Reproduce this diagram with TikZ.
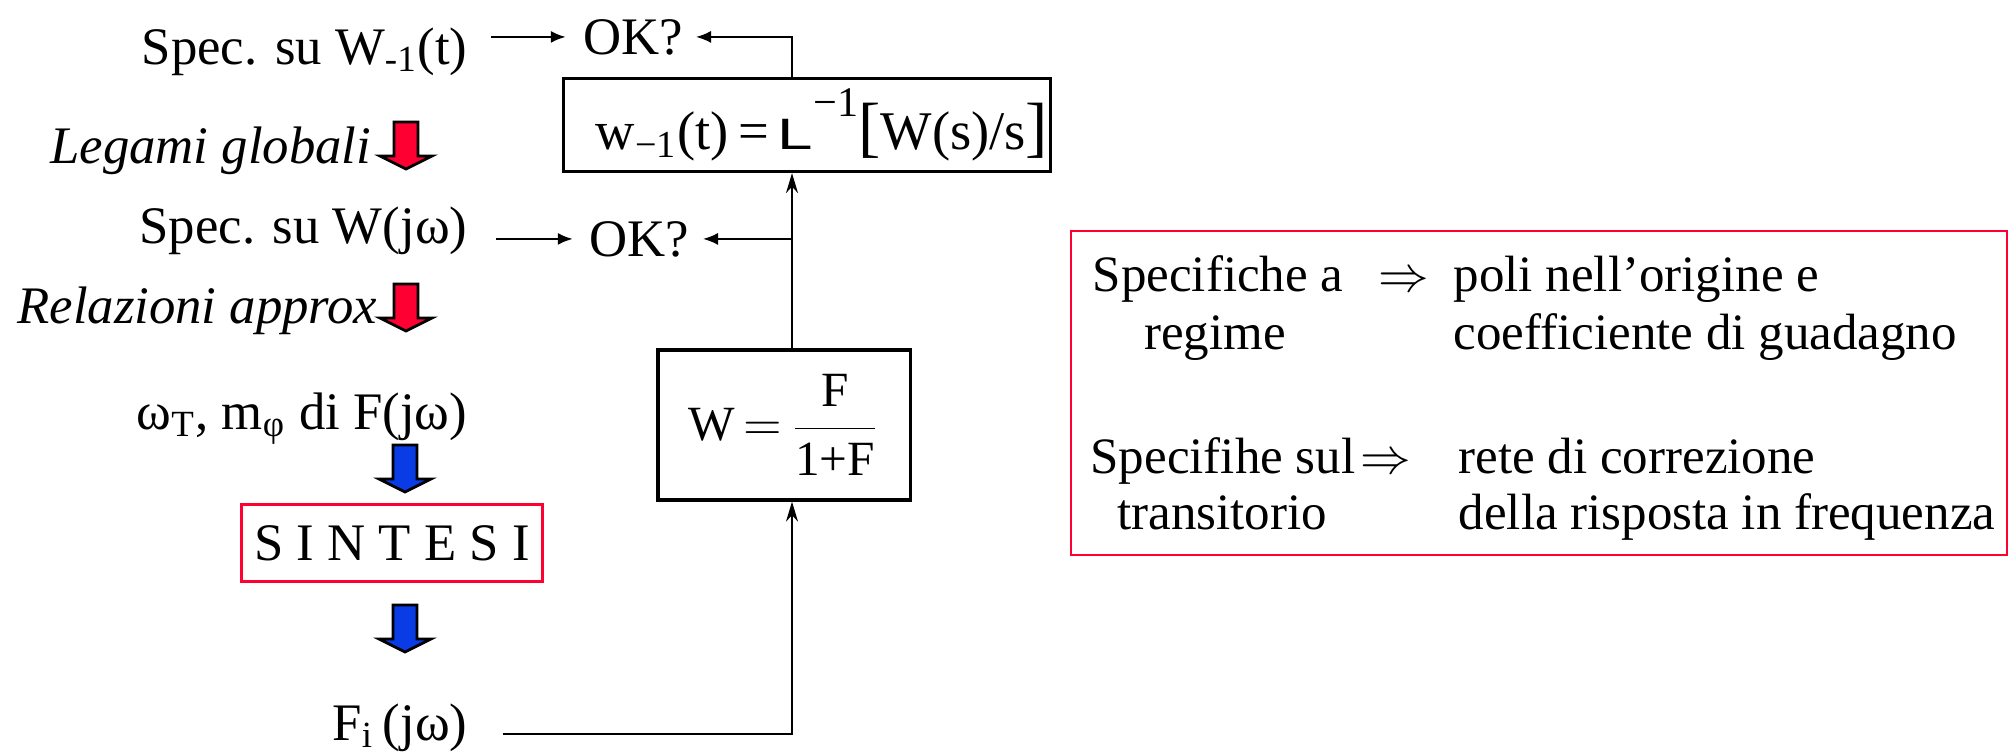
\documentclass[tikz,border=0pt]{standalone}
\usepackage{fontspec}
\usepackage{graphicx}
\setmainfont{Liberation Serif}
\setsansfont{Liberation Sans}
\usetikzlibrary{arrows.meta}
\definecolor{myred}{RGB}{255,0,51}
\definecolor{myblue}{RGB}{10,60,230}

\tikzset{
  txt/.style={font=\fontsize{15}{18}\selectfont, inner sep=0pt},
  rtxt/.style={font=\fontsize{14.5}{17}\selectfont, inner sep=0pt},
  blk/.style={draw, line width=0.9pt, inner sep=0pt, font=\fontsize{15.5}{18}\selectfont},
  redbox/.style={draw=myred, line width=0.7pt, inner sep=0pt},
  okarr/.style={-{Latex[length=1.5mm,width=1.2mm]}, line width=0.8pt},
  vert/.style={-{Stealth[length=2mm,width=1.2mm]}, line width=0.5pt},
}

\begin{document}
\begin{tikzpicture}[x=0.01cm,y=-0.01cm]
\useasboundingbox (0,0) rectangle (2009,753);

\node[txt, anchor=base east] (spec1) at (468,64) {Spec. su W\textsubscript{-1}(t)};
\node[txt, anchor=base west] (ok1) at (583,54) {OK?};
\node[txt, anchor=base east] (legami) at (372,163) {\itshape Legami globali};
\node[txt, anchor=base east] (spec2) at (468,243) {Spec. su W(jω)};
\node[txt, anchor=base west] (ok2) at (589,256) {OK?};
\node[txt, anchor=base east] (relaz) at (378,323) {\itshape Relazioni approx};
\node[txt, anchor=base east] (omega) at (468,429) {ω\textsubscript{T}, m\textsubscript{φ} di F(jω)};
\node[redbox, txt, minimum width=3.01cm, minimum height=0.77cm] (sintesi) at (392,543) {S I N T E S I};
\node[txt, anchor=base east] (fi) at (468,740) {F\textsubscript{i}\,(jω)};

\node[blk, minimum width=4.87cm, minimum height=0.93cm] (lap) at (807,125)
  {\hspace*{0.3cm}w\textsubscript{\textminus1}(t)\,=\,{\fontsize{12.5}{12.5}\selectfont\scalebox{1.45}[1]{\textsf{L}}}\raisebox{1.3ex}{\fontsize{12}{12}\selectfont\textminus1}{\fontsize{19}{19}\selectfont[}W(s)/s{\fontsize{19}{19}\selectfont]}};
\node[blk, font=\fontsize{14}{17}\selectfont, minimum width=2.52cm, minimum height=1.5cm] (wf) at (784,425)
  {$\displaystyle\hbox{W}\,{=}\,\frac{\hbox{F}}{\hbox{1+F}}$\hspace{0.14cm}};

\coordinate (spine) at (792,734);

% block arrows
\foreach \ax/\ay/\ac in {406/122/myred, 406/284/myred, 405/445/myblue, 405/605/myblue}{
  \draw[line width=0.8pt, fill=\ac] (\ax,\ay) ++(-12,0) -- ++(24,0) -- ++(0,34) -- ++(14,0)
    -- ++(-26,13) -- ++(-26,-13) -- ++(14,0) -- cycle;
}

% connectors
\draw[okarr, shorten <=0.23cm, shorten >=0.17cm] (spec1.east |- ok1.west) -- (ok1.west);
\draw[okarr, shorten <=0.28cm, shorten >=0.16cm] (spec2.east |- ok2.west) -- (ok2.west);
\draw[okarr, line width=0.5pt, shorten >=0.12cm] (spine |- lap.north) |- (ok1.east);
\draw[okarr, line width=0.5pt, shorten >=0.13cm] (spine |- ok2.east) -- (ok2.east);
\draw[vert] (spine |- wf.north) -- (spine |- lap.south);
\draw[vert, shorten <=0.35cm] (fi.east |- spine) -- (spine) -- (spine |- wf.south);

% right box
\node[redbox, minimum width=9.35cm, minimum height=3.24cm] (notes) at (1539,393) {};
\node[rtxt, anchor=base] (reg1) at (1218,291) {Specifiche a};
\node[rtxt, anchor=base] (reg2) at (1215,349) {regime};
\node[rtxt, anchor=base west] (impl1) at (1378,291) {$\Rightarrow$};
\node[rtxt, anchor=base west] (poli1) at (1453,291) {poli nell’origine e};
\node[rtxt, anchor=base west] (poli2) at (1453,349) {coefficiente di guadagno};
\node[rtxt, anchor=base] (tr1) at (1223,473) {Specifihe sul};
\node[rtxt, anchor=base] (tr2) at (1222,529) {transitorio};
\node[rtxt, anchor=base west] (impl2) at (1360,473) {$\Rightarrow$};
\node[rtxt, anchor=base west] (rete1) at (1458,473) {rete di correzione};
\node[rtxt, anchor=base west] (rete2) at (1458,529) {della risposta in frequenza};
\end{tikzpicture}
\end{document}
